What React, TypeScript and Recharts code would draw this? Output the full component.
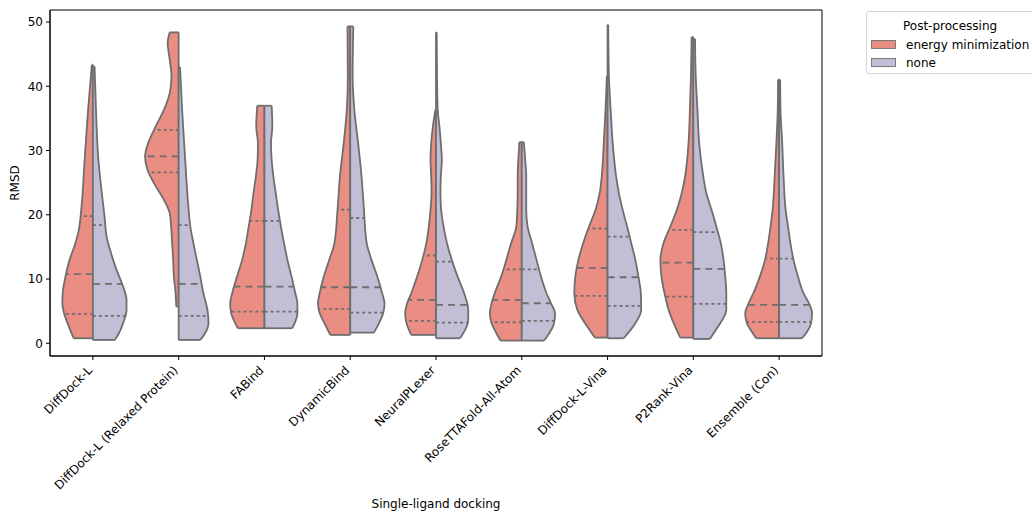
import { ComposedChart, Area, Line, XAxis, YAxis, ReferenceArea, Legend, Label } from "recharts";

const methods = [
  "DiffDock-L",
  "DiffDock-L (Relaxed Protein)",
  "FABind",
  "DynamicBind",
  "NeuralPLexer",
  "RoseTTAFold-All-Atom",
  "DiffDock-L-Vina",
  "P2Rank-Vina",
  "Ensemble (Con)",
];

const groups = ["energy minimization", "none"];

const yTicks = [0, 10, 20, 30, 40, 50];

// [rmsd, relative density], one profile per method
const energyMinDensity: number[][][] = [
  [[43.35, .03], [36.34, .14], [28.56, .24], [20.77, .34], [17.65, .41], [15.58, .51], [12.98, .68], [10.38, .80], [7.79, .88], [6.23, .89], [4.67, .84], [2.60, .70], [0.78, .56]],
  [[48.39, .26], [46.73, .32], [44.13, .26], [41.54, .21], [38.94, .26], [36.34, .43], [33.75, .67], [31.15, .89], [29.08, .98], [27.00, .91], [24.92, .72], [22.33, .43], [20.25, .26], [18.17, .22], [15.58, .19], [12.98, .16], [10.38, .14], [7.79, .09], [5.71, .07]],
  [[36.97, .21], [33.75, .24], [31.15, .19], [28.56, .20], [25.96, .25], [23.36, .32], [20.77, .38], [18.17, .46], [15.58, .54], [12.98, .65], [10.38, .80], [7.79, .94], [6.23, 1.0], [4.67, .97], [3.12, .85], [2.34, .78]],
  [[49.32, .08], [41.54, .07], [36.34, .10], [31.15, .19], [25.96, .30], [20.77, .37], [15.58, .46], [12.98, .61], [10.38, .77], [7.79, .89], [6.23, .94], [4.67, .89], [3.12, .75], [1.30, .58]],
  [[36.34, .02], [33.75, .09], [31.15, .14], [28.56, .16], [25.96, .14], [23.36, .13], [20.77, .16], [18.17, .21], [15.58, .28], [12.98, .40], [10.38, .55], [7.79, .72], [6.23, .84], [4.67, .90], [3.12, .86], [1.30, .72]],
  [[31.31, .07], [28.56, .10], [25.96, .12], [23.36, .12], [20.77, .13], [18.17, .16], [15.58, .31], [12.98, .45], [10.38, .60], [7.79, .79], [6.23, .88], [4.67, .93], [3.12, .88], [1.56, .74], [0.42, .62]],
  [[41.54, .02], [36.34, .06], [31.15, .11], [25.96, .17], [23.36, .23], [20.77, .35], [18.17, .54], [15.58, .71], [12.98, .85], [10.38, .94], [7.79, .97], [5.19, .88], [2.60, .59], [0.88, .37]],
  [[47.66, .05], [41.54, .07], [36.34, .10], [31.15, .14], [25.96, .24], [23.36, .34], [20.77, .48], [18.17, .67], [15.58, .87], [12.98, .96], [10.38, .93], [7.79, .84], [5.19, .72], [2.60, .53], [0.88, .38]],
  [[41.02, .03], [36.34, .04], [31.15, .08], [25.96, .13], [20.77, .19], [18.17, .25], [15.58, .32], [12.98, .41], [10.38, .56], [7.79, .75], [6.23, .89], [4.67, .99], [3.12, .94], [1.82, .80], [0.78, .67]],
];

const noneDensity: number[][][] = [
  [[43.09, .05], [36.34, .09], [28.56, .16], [23.36, .26], [19.73, .34], [16.61, .40], [14.54, .50], [11.42, .69], [8.83, .88], [6.75, .98], [5.19, .98], [3.12, .88], [1.56, .76], [0.52, .64]],
  [[42.99, .04], [36.34, .10], [28.56, .19], [20.77, .29], [18.17, .34], [15.58, .43], [12.98, .53], [10.38, .63], [7.79, .72], [5.19, .84], [3.12, .87], [1.56, .77], [0.52, .63]],
  [[36.97, .21], [33.75, .23], [31.15, .19], [28.56, .21], [25.96, .26], [23.36, .33], [20.77, .40], [18.17, .48], [15.58, .57], [12.98, .67], [10.38, .79], [7.79, .90], [6.23, .96], [4.67, .96], [3.12, .88], [2.34, .81]],
  [[49.32, .09], [41.54, .07], [36.34, .12], [31.15, .23], [25.96, .33], [20.77, .40], [15.58, .48], [12.98, .62], [10.38, .79], [7.79, .93], [6.23, 1.0], [4.67, .96], [3.12, .84], [1.66, .69]],
  [[48.39, .02], [41.54, .03], [36.34, .05], [33.75, .10], [31.15, .14], [28.56, .17], [25.96, .14], [23.36, .13], [20.77, .15], [18.17, .22], [15.58, .32], [12.98, .46], [10.38, .63], [7.79, .82], [5.19, .94], [3.63, .94], [2.08, .85], [0.78, .70]],
  [[31.31, .06], [28.56, .10], [25.96, .13], [23.36, .13], [20.77, .13], [18.17, .17], [15.58, .30], [12.98, .43], [10.38, .56], [7.79, .72], [6.23, .85], [4.67, .97], [3.12, .94], [1.56, .80], [0.42, .65]],
  [[49.58, .02], [41.54, .04], [36.34, .09], [31.15, .15], [25.96, .25], [23.36, .33], [20.77, .44], [18.17, .57], [15.58, .69], [12.98, .81], [10.38, .90], [7.79, .97], [5.19, .98], [3.12, .81], [0.78, .47]],
  [[47.35, .05], [41.54, .07], [36.34, .12], [31.15, .17], [25.96, .29], [23.36, .38], [20.77, .53], [18.17, .67], [15.58, .80], [12.98, .88], [10.38, .93], [7.79, .96], [5.19, .96], [2.60, .72], [0.67, .48]],
  [[41.02, .03], [36.34, .04], [31.15, .09], [25.96, .13], [20.77, .19], [18.17, .26], [15.58, .33], [12.98, .42], [10.38, .55], [7.79, .71], [6.23, .87], [4.67, .96], [3.12, .93], [1.82, .82], [0.78, .67]],
];

// [q1, median, q3]
const energyMinQuartiles = [
  [4.57, 10.75, 19.8], [26.6, 29.1, 33.2], [4.93, 8.83, 19.05], [5.35, 8.72, 20.8], [3.48, 6.75, 13.66],
  [3.27, 6.75, 11.5], [7.37, 11.73, 17.86], [7.27, 12.56, 17.65], [3.32, 5.97, 13.19],
];
const noneQuartiles = [
  [4.26, 9.24, 18.4], [4.26, 9.24, 18.4], [4.93, 8.83, 19.05], [4.78, 8.72, 19.5], [3.22, 5.97, 12.7],
  [3.48, 6.23, 11.5], [5.82, 10.28, 16.6], [6.13, 11.58, 17.29], [3.32, 5.97, 13.19],
];

const HALF = 0.4;
const EDGE = "#6e6e6e";
const COLORS = ["#ea8d83", "#c1bed6"];
const FONT = "DejaVu Sans";
const Y_DOMAIN = [-1.98, 51.87];

const densityAt = (pts: number[][], y: number) => {
  for (let k = 0; k < pts.length - 1; k++) {
    const [y0, d0] = pts[k];
    const [y1, d1] = pts[k + 1];
    if (y >= y0 && y <= y1) return d0 + ((d1 - d0) * (y - y0)) / (y1 - y0);
  }
  return 0;
};

const MethodTick = (props: any) => {
  const { x, y, payload } = props;
  const ty = y + 9;
  return (
    <text x={x} y={ty} transform={`rotate(-45, ${x}, ${ty})`} textAnchor="end" fontSize={12} fontFamily={FONT} fill="#000">
      {methods[payload.value]}
    </text>
  );
};

const LegendBox = () => (
  <div style={{ position: "relative", width: 172, height: 63, boxSizing: "border-box", border: "1px solid #d6d6d6", borderRadius: 3, background: "#fff", fontFamily: FONT, fontSize: 12, color: "#000" }}>
    <div style={{ position: "absolute", left: 36, top: 7, lineHeight: "14px" }}>Post-processing</div>
    {groups.map((g, k) => (
      <div key={g}>
        <div style={{ position: "absolute", left: 4, top: 28 + k * 18, width: 25, height: 9, background: COLORS[k], border: "1px solid #7a7a7a", boxSizing: "border-box" }} />
        <div style={{ position: "absolute", left: 39, top: 26 + k * 18, lineHeight: "14px" }}>{g}</div>
      </div>
    ))}
  </div>
);

export default function App() {
  const series: any[] = [];
  const halves = [
    { densities: energyMinDensity, quartiles: energyMinQuartiles, side: -1 },
    { densities: noneDensity, quartiles: noneQuartiles, side: 1 },
  ];

  halves.forEach((h, hi) => {
    h.densities.forEach((profile, i) => {
      const pts = [...profile].sort((a, b) => a[0] - b[0]);
      const areaData = pts.map(([y, d]) => ({ rmsd: y, x: [i, i + h.side * d * HALF] }));
      series.push(
        <Area
          key={`a-${hi}-${i}`}
          data={areaData}
          dataKey="x"
          type="monotone"
          fill={COLORS[hi]}
          fillOpacity={1}
          stroke={EDGE}
          strokeWidth={1.8}
          dot={false}
          activeDot={false}
          legendType="none"
          isAnimationActive={false}
        />
      );
      // flat ends (cut at data range)
      [pts[0], pts[pts.length - 1]].forEach(([y, d], k) => {
        series.push(
          <Line
            key={`c-${hi}-${i}-${k}`}
            data={[{ rmsd: y, x: i }, { rmsd: y, x: i + h.side * d * HALF }]}
            dataKey="x"
            type="linear"
            stroke={EDGE}
            strokeWidth={1.8}
            dot={false}
            activeDot={false}
            legendType="none"
            isAnimationActive={false}
          />
        );
      });
      h.quartiles[i].forEach((q, k) => {
        const w = densityAt(pts, q) * HALF;
        series.push(
          <Line
            key={`q-${hi}-${i}-${k}`}
            data={[{ rmsd: q, x: i }, { rmsd: q, x: i + h.side * w }]}
            dataKey="x"
            type="linear"
            stroke={EDGE}
            strokeWidth={1.8}
            strokeDasharray={k === 1 ? "7 5" : "3 3"}
            dot={false}
            activeDot={false}
            legendType="none"
            isAnimationActive={false}
          />
        );
      });
    });
  });

  return (
    <div style={{ position: "absolute", left: 0, top: 0, width: 1032, height: 512, overflow: "hidden", background: "#fff" }}>
      <ComposedChart layout="vertical" width={1032} height={512} margin={{ top: 10, right: 210, bottom: 0, left: 0 }}>
        <XAxis
          type="number"
          domain={[-0.5, 8.5]}
          ticks={methods.map((_, i) => i)}
          interval={0}
          allowDataOverflow
          height={156}
          tickSize={4}
          stroke="#000"
          tick={<MethodTick />}
        >
          <Label
            content={({ viewBox }: any) => (
              <text x={viewBox.x + viewBox.width / 2} y={viewBox.y + viewBox.height - 4} textAnchor="middle" fontSize={12} fontFamily={FONT} fill="#000">
                Single-ligand docking
              </text>
            )}
          />
        </XAxis>
        <YAxis
          type="number"
          dataKey="rmsd"
          domain={Y_DOMAIN}
          ticks={yTicks}
          reversed
          allowDataOverflow
          width={50}
          tickSize={4}
          tickMargin={3}
          stroke="#000"
          tick={{ fontSize: 12, fill: "#000", fontFamily: FONT }}
        >
          <Label
            content={({ viewBox }: any) => {
              const cx = viewBox.x + 15;
              const cy = viewBox.y + viewBox.height / 2;
              return (
                <text x={cx} y={cy} transform={`rotate(-90, ${cx}, ${cy})`} textAnchor="middle" dominantBaseline="central" fontSize={12} fontFamily={FONT} fill="#000">
                  RMSD
                </text>
              );
            }}
          />
        </YAxis>
        {series}
        <ReferenceArea x1={-0.5} x2={8.5} y1={Y_DOMAIN[0]} y2={Y_DOMAIN[1]} fill="none" stroke="#000" strokeWidth={1} ifOverflow="visible" />
        <Legend
          layout="vertical"
          align="center"
          verticalAlign="middle"
          content={() => <LegendBox />}
          wrapperStyle={{ left: 866, top: 11, width: 172, height: 63 }}
        />
      </ComposedChart>
    </div>
  );
}
